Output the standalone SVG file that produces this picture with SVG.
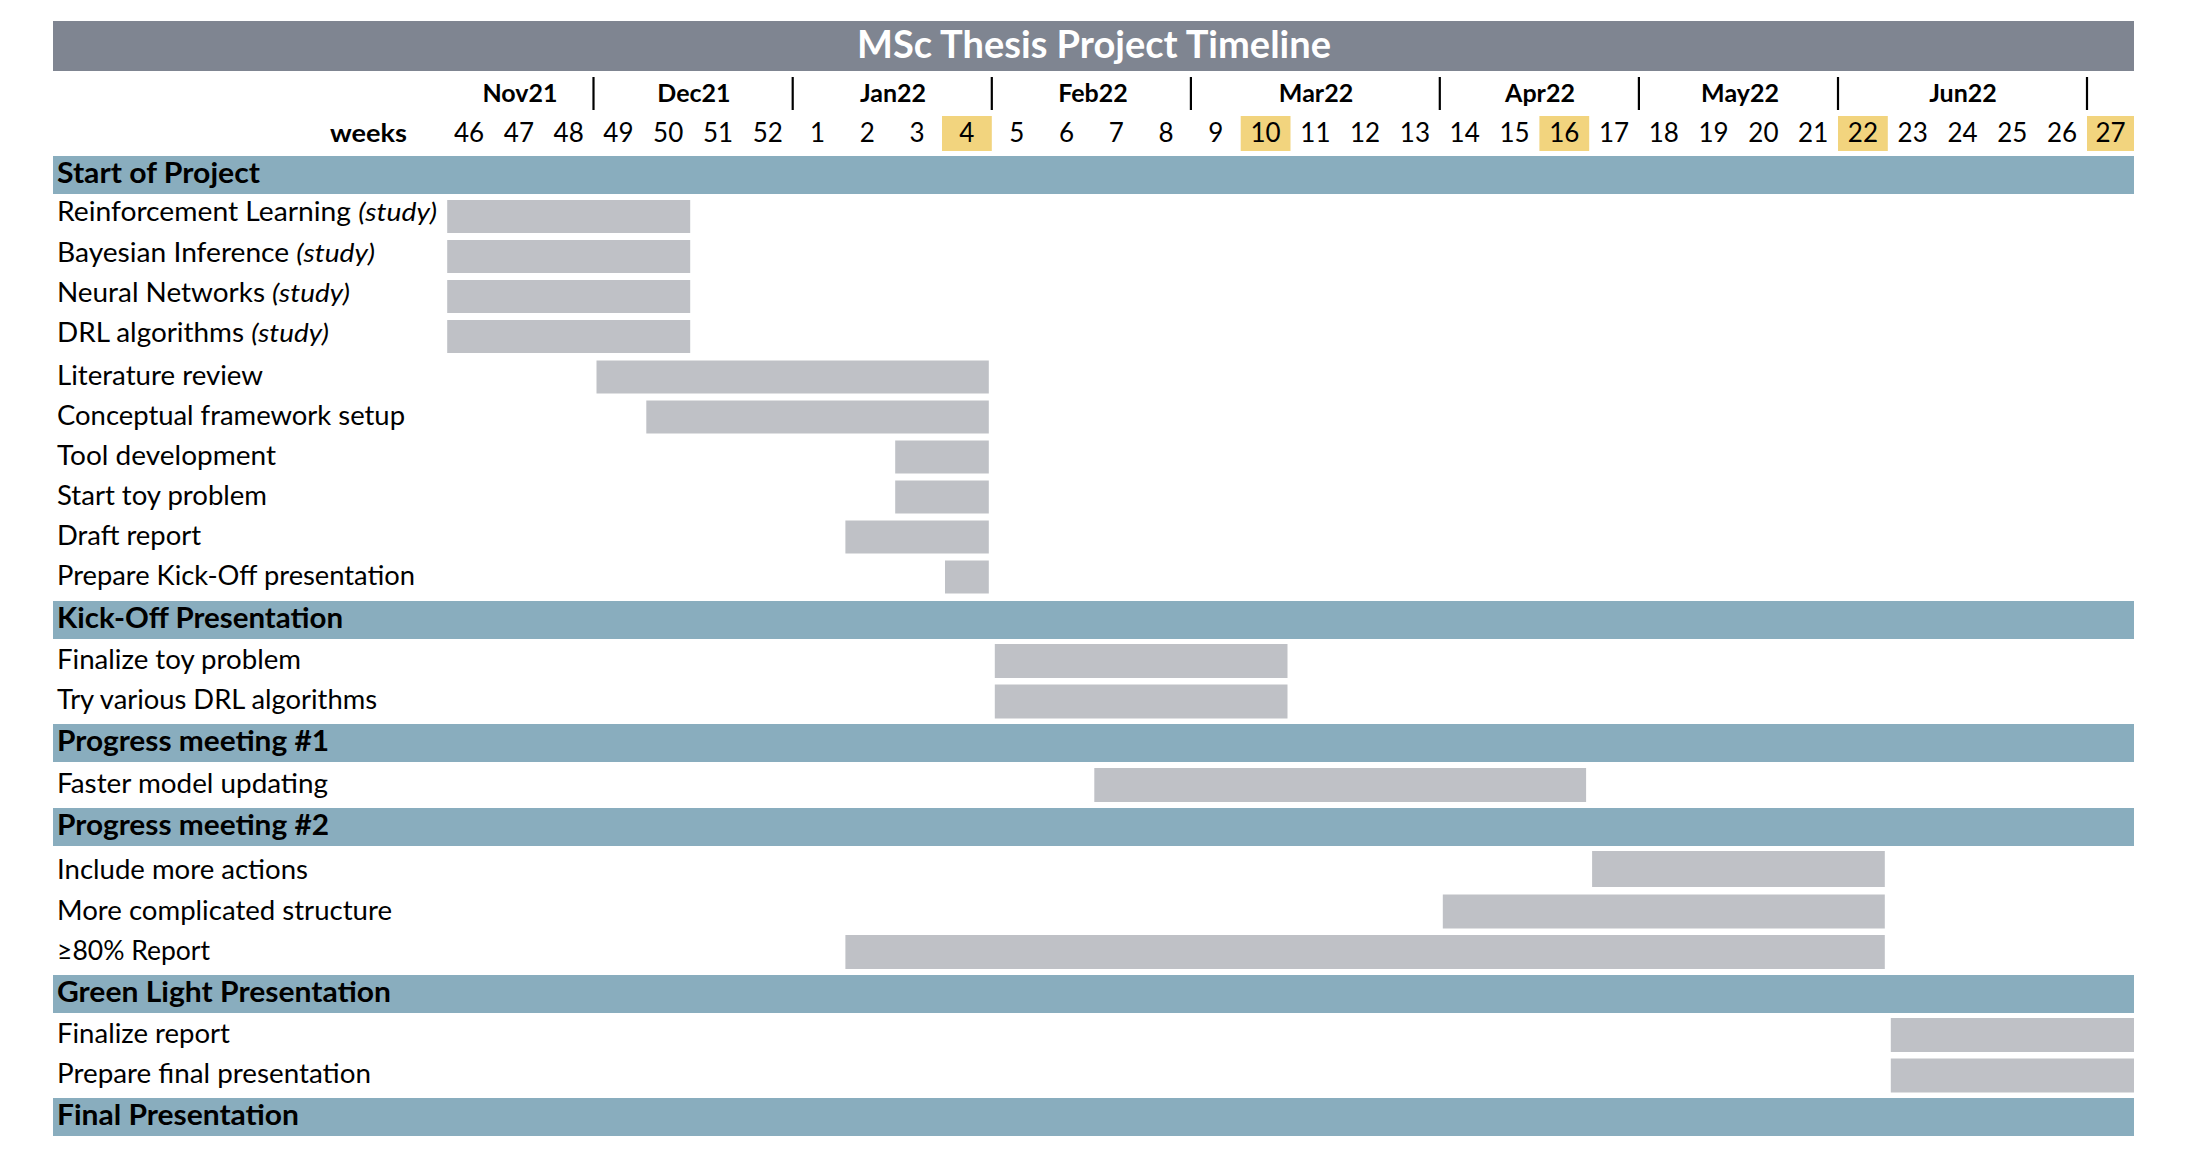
<svg xmlns="http://www.w3.org/2000/svg" width="2199" height="1163" viewBox="0 0 2199 1163">
<style>
text{font-family:Lato,"Liberation Sans",sans-serif;fill:#000}
.title{font-size:38px;font-weight:bold;fill:#fff}
.month{font-size:25px;font-weight:bold}
.wk{font-size:26px;text-anchor:middle}
.lbl{font-size:26px}
.band-t{font-size:28px;font-weight:bold}
.it{font-style:italic}
.band{fill:#89adbe}
.bar{fill:#bfc1c6}
.hl{fill:#f2d47e}
.sep{stroke:#000;stroke-width:2.2}
</style>
<rect width="2199" height="1163" fill="#fff"/>
<g id="header">
<rect x="53" y="21" width="2081" height="50" fill="#7f8591"/>
<text class="title" x="1094" y="58" text-anchor="middle">MSc Thesis Project Timeline</text>
<g id="months">
<line class="sep" x1="593.5" y1="77" x2="593.5" y2="110"/>
<line class="sep" x1="792.7" y1="77" x2="792.7" y2="110"/>
<line class="sep" x1="991.8" y1="77" x2="991.8" y2="110"/>
<line class="sep" x1="1190.9" y1="77" x2="1190.9" y2="110"/>
<line class="sep" x1="1439.8" y1="77" x2="1439.8" y2="110"/>
<line class="sep" x1="1638.9" y1="77" x2="1638.9" y2="110"/>
<line class="sep" x1="1838" y1="77" x2="1838" y2="110"/>
<line class="sep" x1="2087" y1="77" x2="2087" y2="110"/>
<g text-anchor="middle">
<text class="month" x="520" y="102">Nov21</text>
<text class="month" x="694" y="102">Dec21</text>
<text class="month" x="893" y="102">Jan22</text>
<text class="month" x="1093" y="102">Feb22</text>
<text class="month" x="1316" y="102">Mar22</text>
<text class="month" x="1540" y="102">Apr22</text>
<text class="month" x="1740" y="102">May22</text>
<text class="month" x="1963" y="102">Jun22</text>
</g>
</g>
<g id="weeks">
<rect class="hl" x="942" y="116" width="49.8" height="35"/>
<rect class="hl" x="1240.7" y="116" width="49.8" height="35"/>
<rect class="hl" x="1539.4" y="116" width="49.8" height="35"/>
<rect class="hl" x="1838" y="116" width="49.8" height="35"/>
<rect class="hl" x="2087" y="116" width="47" height="35"/>
<text class="month" x="330" y="142" textLength="77" lengthAdjust="spacingAndGlyphs">weeks</text>
<text class="wk" x="469.1" y="142">46</text>
<text class="wk" x="518.9" y="142">47</text>
<text class="wk" x="568.7" y="142">48</text>
<text class="wk" x="618.4" y="142">49</text>
<text class="wk" x="668.2" y="142">50</text>
<text class="wk" x="718" y="142">51</text>
<text class="wk" x="767.8" y="142">52</text>
<text class="wk" x="817.6" y="142">1</text>
<text class="wk" x="867.3" y="142">2</text>
<text class="wk" x="917.1" y="142">3</text>
<text class="wk" x="966.9" y="142">4</text>
<text class="wk" x="1016.7" y="142">5</text>
<text class="wk" x="1066.5" y="142">6</text>
<text class="wk" x="1116.2" y="142">7</text>
<text class="wk" x="1166" y="142">8</text>
<text class="wk" x="1215.8" y="142">9</text>
<text class="wk" x="1265.6" y="142">10</text>
<text class="wk" x="1315.4" y="142">11</text>
<text class="wk" x="1365.1" y="142">12</text>
<text class="wk" x="1414.9" y="142">13</text>
<text class="wk" x="1464.7" y="142">14</text>
<text class="wk" x="1514.5" y="142">15</text>
<text class="wk" x="1564.3" y="142">16</text>
<text class="wk" x="1614" y="142">17</text>
<text class="wk" x="1663.8" y="142">18</text>
<text class="wk" x="1713.6" y="142">19</text>
<text class="wk" x="1763.4" y="142">20</text>
<text class="wk" x="1813.2" y="142">21</text>
<text class="wk" x="1862.9" y="142">22</text>
<text class="wk" x="1912.7" y="142">23</text>
<text class="wk" x="1962.5" y="142">24</text>
<text class="wk" x="2012.3" y="142">25</text>
<text class="wk" x="2062.1" y="142">26</text>
<text class="wk" x="2110.5" y="142">27</text>
</g>
</g>
<g id="bands">
<g id="band-start"><rect class="band" x="53" y="156" width="2081" height="38"/><text class="band-t" x="57" y="183" textLength="203" lengthAdjust="spacingAndGlyphs">Start of Project</text></g>
<g id="band-kickoff"><rect class="band" x="53" y="601" width="2081" height="38"/><text class="band-t" x="57" y="628" textLength="286" lengthAdjust="spacingAndGlyphs">Kick-Off Presentation</text></g>
<g id="band-pm1"><rect class="band" x="53" y="724" width="2081" height="38"/><text class="band-t" x="57" y="751" textLength="272" lengthAdjust="spacingAndGlyphs">Progress meeting #1</text></g>
<g id="band-pm2"><rect class="band" x="53" y="808" width="2081" height="38"/><text class="band-t" x="57" y="835" textLength="272" lengthAdjust="spacingAndGlyphs">Progress meeting #2</text></g>
<g id="band-green"><rect class="band" x="53" y="975" width="2081" height="38"/><text class="band-t" x="57" y="1002" textLength="334" lengthAdjust="spacingAndGlyphs">Green Light Presentation</text></g>
<g id="band-final"><rect class="band" x="53" y="1098" width="2081" height="38"/><text class="band-t" x="57" y="1125" textLength="242" lengthAdjust="spacingAndGlyphs">Final Presentation</text></g>
</g>
<g id="tasks">
<g id="t-rl"><text class="lbl" x="57" y="221" textLength="380" lengthAdjust="spacingAndGlyphs">Reinforcement Learning <tspan class="it">(study)</tspan></text><rect class="bar" x="447.2" y="200" width="243" height="33"/></g>
<g id="t-bayes"><text class="lbl" x="57" y="261.5" textLength="318" lengthAdjust="spacingAndGlyphs">Bayesian Inference <tspan class="it">(study)</tspan></text><rect class="bar" x="447.2" y="240" width="243" height="33"/></g>
<g id="t-nn"><text class="lbl" x="57" y="301.5" textLength="293" lengthAdjust="spacingAndGlyphs">Neural Networks <tspan class="it">(study)</tspan></text><rect class="bar" x="447.2" y="280" width="243" height="33"/></g>
<g id="t-drl"><text class="lbl" x="57" y="341.5" textLength="272" lengthAdjust="spacingAndGlyphs">DRL algorithms <tspan class="it">(study)</tspan></text><rect class="bar" x="447.2" y="320" width="243" height="33"/></g>
<g id="t-lit"><text class="lbl" x="57" y="385" textLength="206" lengthAdjust="spacingAndGlyphs">Literature review</text><rect class="bar" x="596.5" y="360.5" width="392.3" height="33"/></g>
<g id="t-conc"><text class="lbl" x="57" y="425" textLength="348" lengthAdjust="spacingAndGlyphs">Conceptual framework setup</text><rect class="bar" x="646.3" y="400.5" width="342.5" height="33"/></g>
<g id="t-tool"><text class="lbl" x="57" y="465" textLength="219" lengthAdjust="spacingAndGlyphs">Tool development</text><rect class="bar" x="895.2" y="440.5" width="93.6" height="33"/></g>
<g id="t-toy"><text class="lbl" x="57" y="505" textLength="210" lengthAdjust="spacingAndGlyphs">Start toy problem</text><rect class="bar" x="895.2" y="480.5" width="93.6" height="33"/></g>
<g id="t-draft"><text class="lbl" x="57" y="545" textLength="144" lengthAdjust="spacingAndGlyphs">Draft report</text><rect class="bar" x="845.4" y="520.5" width="143.4" height="33"/></g>
<g id="t-prepko"><text class="lbl" x="57" y="585" textLength="358" lengthAdjust="spacingAndGlyphs">Prepare Kick-Off presentation</text><rect class="bar" x="945" y="560.5" width="43.8" height="33"/></g>
<g id="t-fintoy"><text class="lbl" x="57" y="669" textLength="244" lengthAdjust="spacingAndGlyphs">Finalize toy problem</text><rect class="bar" x="994.8" y="644" width="292.7" height="34"/></g>
<g id="t-drlvar"><text class="lbl" x="57" y="709" textLength="320" lengthAdjust="spacingAndGlyphs">Try various DRL algorithms</text><rect class="bar" x="994.8" y="684.5" width="292.7" height="34"/></g>
<g id="t-faster"><text class="lbl" x="57" y="793" textLength="271" lengthAdjust="spacingAndGlyphs">Faster model updating</text><rect class="bar" x="1094.3" y="768" width="491.8" height="34"/></g>
<g id="t-incl"><text class="lbl" x="57" y="879" textLength="251" lengthAdjust="spacingAndGlyphs">Include more actions</text><rect class="bar" x="1592.1" y="851" width="292.7" height="36"/></g>
<g id="t-compl"><text class="lbl" x="57" y="919.5" textLength="335" lengthAdjust="spacingAndGlyphs">More complicated structure</text><rect class="bar" x="1442.8" y="894.5" width="442" height="34"/></g>
<g id="t-report80"><text class="lbl" x="57" y="959.5" textLength="153" lengthAdjust="spacingAndGlyphs">≥80% Report</text><rect class="bar" x="845.4" y="935" width="1039.4" height="34"/></g>
<g id="t-finrep"><text class="lbl" x="57" y="1043" textLength="173" lengthAdjust="spacingAndGlyphs">Finalize report</text><rect class="bar" x="1890.8" y="1018" width="243.2" height="34"/></g>
<g id="t-finpres"><text class="lbl" x="57" y="1083" textLength="314" lengthAdjust="spacingAndGlyphs">Prepare final presentation</text><rect class="bar" x="1890.8" y="1058.5" width="243.2" height="34"/></g>
</g>
<g id="connectors"/>
</svg>
